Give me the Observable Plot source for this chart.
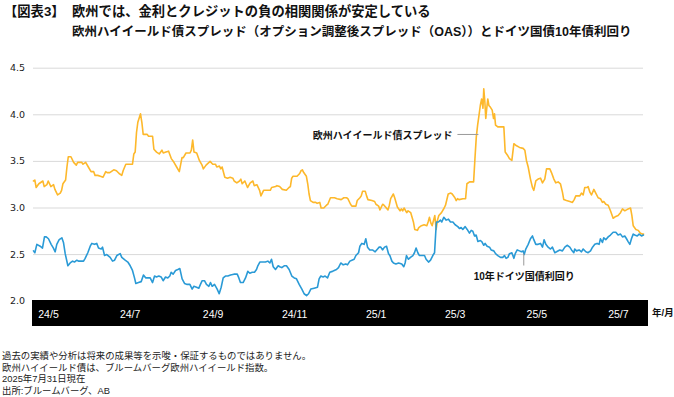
<!DOCTYPE html>
<html lang="ja"><head><meta charset="utf-8">
<script src="https://cdn.jsdelivr.net/npm/d3@7"></script>
<script src="https://cdn.jsdelivr.net/npm/@observablehq/plot@0.6"></script>
<style>
html,body{margin:0;padding:0;background:#fff;}
#wrap{position:relative;width:674px;height:397px;overflow:hidden;font-family:"Liberation Sans","Noto Sans CJK JP",sans-serif;color:#111;}
.abs{position:absolute;white-space:nowrap;line-height:1;}
#t0{left:4px;top:5px;font-size:13.3px;font-weight:bold;}
#t1{left:72px;top:5px;font-size:13.3px;font-weight:bold;}
#t2{left:72px;top:26px;font-size:12.5px;font-weight:bold;}
#band{position:absolute;left:32px;top:300px;width:616px;height:26px;background:#000;}
#chart{position:absolute;left:0;top:50px;}
#unit{left:652px;top:308px;font-size:9.5px;font-weight:bold;}
#foot{position:absolute;left:2px;top:350px;font-size:9.4px;line-height:11.7px;color:#222;white-space:nowrap;}
</style></head>
<body><div id="wrap">
<div class="abs" id="t0">【図表3】</div>
<div class="abs" id="t1">欧州では、金利とクレジットの負の相関関係が安定している</div>
<div class="abs" id="t2">欧州ハイイールド債スプレッド（オプション調整後スプレッド（OAS））とドイツ国債10年債利回り</div>
<div id="band"></div>
<div id="chart"></div>
<div class="abs" id="unit">年/月</div>
<div id="foot">過去の実績や分析は将来の成果等を示唆・保証するものではありません。<br>欧州ハイイールド債は、ブルームバーグ欧州ハイイールド指数。<br>2025年7月31日現在<br>出所:ブルームバーグ、AB</div>
</div>
<script>
// days since 2024-05-01
const hyDays = [0,1,2,4,7,8,10,11,13,15,16,18,20,21,22,24,25,26,28,30,32,33,36,37,39,41,43,45,46,48,50,52,54,55,57,60,62,64,66,67,69,74,75,76,77,78,80,81,82,85,86,89,90,92,
94,96,97,99,101,103,105,107,109,111,112,114,117,118,119,120,122,124,126,127,129,132,134,136,137,139,140,141,143,145,147,149,150,152,154,155,156,158,160,162,164,165,167,169,170,172,175,177,178,181,
182,184,186,189,191,192,193,194,197,199,200,201,202,204,205,206,207,209,211,212,214,215,217,219,220,222,225,227,230,232,234,235,237,238,241,242,244,245,246,248,249,250,253,255,256,258,259,261,262,265,266,267,269,270,
272,274,275,276,277,279,280,282,283,284,285,287,288,290,292,294,295,296,297,298,300,301,302,303,305,307,308,310,312,313,315,316,317,318,321,323,324,326,329,330,331,332,333,334,335,336,336.6,337.4,338.1,338.9,339.6,340.4,341.6,342.9,343.9,344.6,345.4,347.1,350.1,351.6,352.6,354.6,355.8,357.6,359.1,360.8,363.3,
366,367.3,368.5,369.8,371.5,373,374,375.5,377.2,379,380.5,382.2,383.5,386,387.2,389,390.4,392.2,393.9,395.4,396.4,398.4,400.9,402.9,404.2,405.4,408.4,409.6,410.9,412.1,413.9,414.6,415.9,417.1,418.9,420.3,422.1,423.8,425.3,426.3,427.8,429.6,431.3,433.3,435.3,437,438.8,440.3,442,443.3,444.5,446.3,447.3,448.3,450.3,452,453.7,455.2,456];
const hyValues = [3.29,3.30,3.22,3.26,3.29,3.23,3.25,3.29,3.23,3.25,3.20,3.14,3.16,3.19,3.26,3.30,3.44,3.55,3.55,3.49,3.46,3.49,3.49,3.47,3.49,3.44,3.39,3.39,3.35,3.35,3.34,3.33,3.39,3.38,3.38,3.41,3.40,3.37,3.35,3.40,3.47,3.47,3.58,3.60,3.81,3.92,4.01,3.92,3.79,3.79,3.77,3.77,3.63,3.60,
3.58,3.62,3.59,3.60,3.61,3.53,3.49,3.44,3.39,3.54,3.54,3.59,3.59,3.62,3.73,3.60,3.59,3.51,3.46,3.42,3.46,3.50,3.47,3.47,3.44,3.45,3.42,3.44,3.33,3.32,3.33,3.32,3.29,3.27,3.29,3.31,3.26,3.29,3.22,3.27,3.29,3.24,3.25,3.19,3.13,3.19,3.19,3.19,3.22,3.23,
3.24,3.23,3.20,3.19,3.22,3.23,3.32,3.34,3.34,3.37,3.40,3.41,3.38,3.34,3.26,3.15,3.08,3.06,3.06,3.05,3.06,3.00,3.00,3.03,3.04,3.11,3.11,3.10,3.09,3.11,3.11,3.10,3.04,3.02,3.02,3.08,3.11,3.13,3.18,3.18,3.13,3.09,3.08,3.07,3.04,3.02,2.98,3.04,3.03,2.98,3.03,3.10,3.15,3.11,
3.01,2.97,2.99,2.97,3.00,2.95,2.97,2.95,2.90,2.85,2.77,2.76,2.79,2.81,2.82,2.81,2.85,2.90,2.84,2.81,2.92,2.77,2.87,2.92,2.95,3.00,3.03,3.15,3.16,3.15,3.11,3.08,3.10,3.09,3.10,3.10,3.26,3.28,3.28,3.53,3.76,3.89,3.99,4.10,4.17,4.07,4.28,4.14,3.96,4.08,4.17,4.10,4.08,4.05,3.96,4.01,3.89,3.87,3.87,3.87,3.60,3.56,3.53,3.51,3.69,3.67,3.65,
3.64,3.62,3.51,3.44,3.31,3.22,3.19,3.29,3.31,3.32,3.27,3.31,3.42,3.42,3.38,3.31,3.27,3.28,3.26,3.17,3.09,3.08,3.07,3.06,3.09,3.13,3.13,3.16,3.14,3.22,3.22,3.23,3.17,3.14,3.20,3.16,3.11,3.10,3.06,3.07,3.04,3.03,2.97,2.89,2.91,2.92,2.95,2.99,2.97,2.98,2.99,3.00,2.92,2.81,2.77,2.76,2.73,2.72,2.72];

const bundDays = [0,1,2.5,5,6.7,8.2,9.5,11.2,13.2,14.9,16.2,17.4,19.2,21.2,22.4,23.7,25.7,27.4,29.2,30.6,32.4,33.6,36.1,37.4,38.6,40.6,42.4,43.6,45.6,47.3,48.6,50.6,51.6,53.1,54.8,57.3,59.1,60.6,62.3,64.8,66,68.5,70.5,72.3,74,75.5,76.5,78.5,80.5,82.2,84,85.5,87.2,89,90.5,
91.9,93.7,95.4,96.9,98.7,100.4,101.9,102.9,104.4,106.2,107.9,109.4,111.1,112.9,114.9,116.9,118.6,119.9,121.9,123.6,124.8,126.1,127.8,129.3,131.1,132.3,133.6,135.3,137.3,138.8,140.3,141.8,143.5,145.3,147.3,149.8,152.3,153.5,154.7,156.7,158.5,160.2,161.7,163.5,165.2,166.7,167.7,169.2,171,173.4,175.2,176.7,177.9,179.2,180.9,182.9,
184.1,185.6,187.4,189.1,191.1,193.1,194.9,196.6,198.6,200.6,202.3,204.1,205.6,207.3,209.8,212.3,213.5,214.8,216.5,218,219.8,221.5,223.5,224.8,226.5,228,229.7,231.5,233.5,234.7,236.5,238,239.7,241,243,244,245.4,247.2,248.4,249.7,251.4,253.4,255.4,257.2,258.4,259.6,260.9,262.4,263.9,265.4,266.4,267.9,269.1,270.9,272.9,
275.3,276.8,277.8,278.8,280.3,281.8,283.6,284.8,286,287.3,288.5,290.3,292.3,293.5,295.3,296.8,298.5,299.8,300.7,301.2,302.7,304.2,305.2,306.7,308.5,310.2,311.7,313.5,315.2,317.2,318.4,319.7,320.9,322.7,324.2,325.9,327.2,328.4,329.7,330.9,332.2,334.1,335.1,336.6,337.6,339.1,340.9,342.1,344.1,345.4,347.1,349.1,350.8,352.1,353.3,354.6,355.8,357.6,359.1,360.1,361.6,363.3,
364.8,366,366.8,368,369.8,371.5,373,374,375.5,377.2,379,380.5,381.7,383,384.7,386.5,387.9,389.7,391,393.4,395.4,397.2,398.9,400.9,402.2,403.9,404.6,405.9,407.9,409.6,410.9,412.9,414.6,416.4,417.9,419.6,421.3,422.8,423.8,425.3,426.3,427.8,429.6,431.3,433.3,435.3,437,438.8,440.3,442,443.3,444.5,445.8,447,448.3,449.5,451.3,452.7,454.5,456];
const bundValues = [2.54,2.52,2.61,2.59,2.57,2.69,2.69,2.67,2.61,2.57,2.53,2.61,2.66,2.68,2.63,2.51,2.38,2.41,2.43,2.42,2.44,2.43,2.43,2.43,2.46,2.52,2.59,2.62,2.61,2.62,2.57,2.56,2.58,2.49,2.50,2.47,2.43,2.44,2.49,2.51,2.47,2.44,2.42,2.38,2.33,2.25,2.19,2.20,2.21,2.28,2.25,2.25,2.25,2.20,2.27,
2.26,2.27,2.26,2.22,2.26,2.25,2.27,2.31,2.29,2.33,2.34,2.35,2.24,2.19,2.18,2.18,2.13,2.16,2.15,2.14,2.18,2.22,2.22,2.18,2.16,2.20,2.16,2.18,2.13,2.08,2.15,2.25,2.27,2.27,2.28,2.29,2.29,2.25,2.20,2.20,2.25,2.32,2.30,2.31,2.31,2.34,2.38,2.42,2.42,2.42,2.43,2.41,2.45,2.37,2.34,2.38,
2.37,2.36,2.38,2.38,2.34,2.27,2.25,2.24,2.18,2.13,2.08,2.06,2.08,2.13,2.14,2.15,2.24,2.27,2.26,2.27,2.25,2.31,2.32,2.33,2.34,2.36,2.41,2.39,2.40,2.39,2.43,2.44,2.45,2.49,2.52,2.59,2.62,2.61,2.67,2.58,2.55,2.55,2.53,2.56,2.58,2.58,2.55,2.58,2.59,2.51,2.49,2.43,2.41,2.40,2.41,
2.40,2.37,2.41,2.49,2.45,2.47,2.49,2.52,2.57,2.52,2.49,2.49,2.49,2.45,2.42,2.44,2.49,2.52,2.74,2.85,2.85,2.87,2.85,2.90,2.87,2.88,2.85,2.85,2.82,2.80,2.78,2.79,2.77,2.80,2.77,2.73,2.76,2.75,2.70,2.71,2.64,2.65,2.64,2.60,2.62,2.59,2.58,2.55,2.54,2.51,2.49,2.47,2.47,2.49,2.46,2.47,2.51,2.52,2.46,2.51,2.55,2.54,
2.53,2.54,2.50,2.56,2.61,2.67,2.70,2.66,2.61,2.61,2.62,2.58,2.66,2.61,2.58,2.56,2.58,2.52,2.53,2.55,2.54,2.58,2.60,2.58,2.55,2.52,2.56,2.54,2.55,2.53,2.56,2.53,2.52,2.54,2.58,2.61,2.62,2.61,2.67,2.63,2.68,2.66,2.69,2.71,2.74,2.74,2.71,2.72,2.69,2.70,2.67,2.64,2.61,2.67,2.72,2.71,2.70,2.72,2.70,2.71];

const yTicks = [2.0, 2.5, 3.0, 3.5, 4.0, 4.5];
const gridTicks = [2.5, 3.0, 3.5, 4.0, 4.5];
const tickDays = [0, 61, 123, 184, 245, 304, 365, 426];
const tickLabels = ["24/5", "24/7", "24/9", "24/11", "25/1", "25/3", "25/5", "25/7"];

const seriesLabels = ["欧州ハイイールド債スプレッド", "10年ドイツ国債利回り"];
const labelDays = [313.2, 366.9];
const labelValues = [3.78, 2.267];
const leaderX1 = [316.9, 366.5];
const leaderX2 = [332.6, 366.5];
const leaderY1 = [3.789, 2.512];
const leaderY2 = [3.789, 2.383];

const start = Date.UTC(2024, 4, 1);
const toDate = d => new Date(start + d * 864e5);
const hy = hyDays.map((d, i) => ({date: toDate(d), value: hyValues[i]}));
const bund = bundDays.map((d, i) => ({date: toDate(d), value: bundValues[i]}));
const tickDates = tickDays.map(toDate);
const labels = seriesLabels.map((t, i) => ({text: t, date: toDate(labelDays[i]), value: labelValues[i]}));
const leaders = seriesLabels.map((t, i) => ({x1: toDate(leaderX1[i]), x2: toDate(leaderX2[i]), y1: leaderY1[i], y2: leaderY2[i]}));
const labelFont = "'Liberation Sans','Noto Sans CJK JP',sans-serif";

const plot = Plot.plot({
  width: 674, height: 290,
  marginLeft: 33, marginRight: 31, marginTop: 17.7, marginBottom: 39.3,
  x: {type: "utc", domain: [toDate(0), toDate(456)]},
  y: {domain: [2, 4.5]},
  style: {background: "transparent", overflow: "visible", fontFamily: labelFont},
  marks: [
    Plot.gridY(gridTicks, {stroke: "#d9d9d9", strokeOpacity: 1, strokeWidth: 1}),
    Plot.axisY(yTicks, {tickSize: 0, tickPadding: 8.5, tickFormat: d => d.toFixed(1), fontFamily: "DejaVu Sans", fontSize: 9.5, fill: "#222", label: null}),
    Plot.axisX(tickDates, {tickSize: 0, tickPadding: 9.5, tickFormat: d => tickLabels[tickDates.findIndex(t => +t === +d)], color: "#fff", fill: "#fff", textAnchor: "middle", dx: 15, fontSize: 10.5, label: null}),
    Plot.line(hy, {x: "date", y: "value", stroke: "#FDB82B", strokeWidth: 1.6}),
    Plot.line(bund, {x: "date", y: "value", stroke: "#2A9AD6", strokeWidth: 1.6}),
    Plot.link(leaders, {x1: "x1", x2: "x2", y1: "y1", y2: "y2", stroke: "#999", strokeWidth: 1}),
    Plot.text(labels.slice(0, 1), {x: "date", y: "value", text: "text", textAnchor: "end", fontSize: 10, fontWeight: "bold", fill: "#111", fontFamily: labelFont}),
    Plot.text(labels.slice(1), {x: "date", y: "value", text: "text", textAnchor: "middle", fontSize: 10, fontWeight: "bold", fill: "#111", fontFamily: labelFont})
  ]
});
document.getElementById("chart").appendChild(plot);
</script>
</body></html>
